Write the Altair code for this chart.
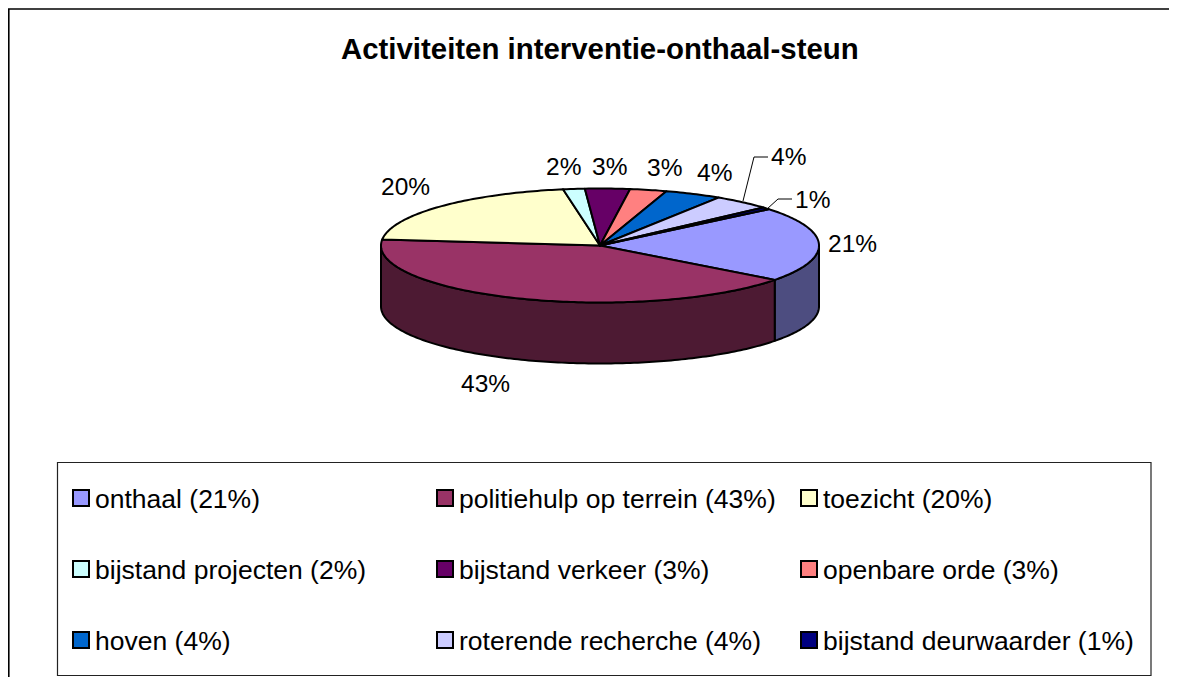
import math
import altair as alt
import pandas as pd

# ---- data ----
names = ["onthaal", "politiehulp op terrein", "toezicht", "bijstand projecten", "bijstand verkeer",
         "openbare orde", "hoven", "roterende recherche", "bijstand deurwaarder"]
percent_labels = [21, 43, 20, 2, 3, 3, 4, 4, 1]
# shares
shares = [21.3, 41.4, 20.6, 1.6, 3.3, 2.7, 4.2, 4.3, 0.6]
top_colors = ["#9999FF", "#993366", "#FFFFCC", "#CCFFFF", "#660066", "#FF8080", "#0066CC", "#CCCCFF", "#000080"]
side_colors = ["#4D4D80", "#4D1A33", "#80806A", "#6A8080", "#330033", "#804040", "#003366", "#6A6A80", "#000040"]
title_text = "Activiteiten interventie-onthaal-steun"

# ---- layout (page pixels minus the 8px margin) ----
OX, OY = 8, 8
W, H = 1161, 669
CX, CY, RX, RY, DEPTH = 600 - OX, 245.5 - OY, 219, 57, 61
START = 50.4
FONT = "Liberation Sans"
label_pos = [(381, 195), (546, 175), (592, 175), (647, 176), (697, 181), (771, 165), (795, 208)]
label_pos = [(828, 252), (461, 392)] + label_pos
legend_col_x = [81, 445, 809]
legend_row_y = [498, 569, 640]
legend_base_y = [508, 579, 650]
leaders = [[(743, 201), (754, 157), (768, 157)], [(767, 209), (778, 199), (792, 199)]]


def pt(theta, dy=0.0):
    a = math.radians(theta)
    return [CX + RX * math.sin(a), CY - RY * math.cos(a) + dy]


def arc(a0, a1, dy=0.0, step=1.0):
    n = max(2, int(abs(a1 - a0) / step) + 1)
    return [pt(a0 + (a1 - a0) * i / n, dy) for i in range(n + 1)]


top_feats, side_feats = [], []
angle = START
for name, share in zip(names, shares):
    a0, a1 = angle, angle + share * 3.6
    angle = a1
    ring = [[CX, CY]] + arc(a0, a1) + [[CX, CY]]
    top_feats.append({"type": "Feature", "properties": {"name": name},
                      "geometry": {"type": "Polygon", "coordinates": [ring]}})
    s0, s1 = max(a0, 90), min(a1, 270)
    if s0 < s1:
        ring = arc(s0, s1) + arc(s1, s0, DEPTH)
        ring.append(ring[0])
        side_feats.append({"type": "Feature", "properties": {"name": name},
                           "geometry": {"type": "Polygon", "coordinates": [ring]}})

line_feats = [{"type": "Feature", "properties": {"name": "leader"},
               "geometry": {"type": "LineString",
                            "coordinates": [[x - OX, y - OY] for x, y in line]}} for line in leaders]


def geo(features):
    return alt.InlineData(values={"type": "FeatureCollection", "features": features},
                          format=alt.DataFormat(type="json", property="features"))


proj = alt.Projection(type="identity", scale=1, translate=[0, 0])

sides = alt.Chart(geo(side_feats)).mark_geoshape(stroke="black", strokeWidth=2, strokeJoin="round").encode(
    fill=alt.Fill("properties.name:N", scale=alt.Scale(domain=names, range=side_colors), legend=None)
).project(**proj.to_dict())
tops = alt.Chart(geo(top_feats)).mark_geoshape(stroke="black", strokeWidth=2, strokeJoin="round").encode(
    fill=alt.Fill("properties.name:N", scale=alt.Scale(domain=names, range=top_colors), legend=None)
).project(**proj.to_dict())
lines = alt.Chart(geo(line_feats)).mark_geoshape(filled=False, stroke="black", strokeWidth=1).project(**proj.to_dict())

px = lambda f: alt.X(f, scale=None, axis=None)
py = lambda f: alt.Y(f, scale=None, axis=None)

frame = alt.Chart(pd.DataFrame({"a": [0]})).mark_rule(stroke="black", strokeWidth=1.6).encode(
    x=alt.value(0.8), y=alt.value(1), y2=alt.value(H))
frame2 = alt.Chart(pd.DataFrame({"a": [0]})).mark_rule(stroke="black", strokeWidth=1.6).encode(
    y=alt.value(1), x=alt.value(0), x2=alt.value(W))
legend_box = alt.Chart(pd.DataFrame({"a": [0]})).mark_rect(fill="white", stroke="#222222", strokeWidth=1.2).encode(
    x=alt.value(57.5 - OX), x2=alt.value(1151 - OX), y=alt.value(462.5 - OY), y2=alt.value(675.5 - OY))

title = alt.Chart(pd.DataFrame({"t": [title_text]})).mark_text(
    font=FONT, fontSize=29.4, fontWeight="bold", align="left", baseline="alphabetic", color="black"
).encode(x=alt.value(341 - OX), y=alt.value(59 - OY), text="t:N")

pct_df = pd.DataFrame({"t": [f"{v}%" for v in percent_labels],
                       "x": [p[0] - OX for p in label_pos], "y": [p[1] - OY for p in label_pos]})
pcts = alt.Chart(pct_df).mark_text(font=FONT, fontSize=24.5, align="left", baseline="alphabetic", color="black").encode(
    x=px("x:Q"), y=py("y:Q"), text="t:N")

leg_df = pd.DataFrame({
    "name": names,
    "t": [f"{n} ({v}%)" for n, v in zip(names, percent_labels)],
    "sx": [legend_col_x[i % 3] - OX for i in range(9)],
    "sy": [legend_row_y[i // 3] - OY for i in range(9)],
    "tx": [legend_col_x[i % 3] + 14 - OX for i in range(9)],
    "ty": [legend_base_y[i // 3] - OY for i in range(9)],
})
swatches = alt.Chart(leg_df).mark_point(shape="square", filled=True, size=256, stroke="black", strokeWidth=2, opacity=1).encode(
    x=px("sx:Q"), y=py("sy:Q"),
    fill=alt.Fill("name:N", scale=alt.Scale(domain=names, range=top_colors), legend=None))
leg_text = alt.Chart(leg_df).mark_text(font=FONT, fontSize=26.5, align="left", baseline="alphabetic", color="black").encode(
    x=px("tx:Q"), y=py("ty:Q"), text="t:N")

chart = alt.layer(frame, frame2, legend_box, sides, tops, lines, title, pcts, swatches, leg_text).resolve_scale(
    fill="independent"
).properties(
    width=W, height=H, padding=0, background="white", autosize=alt.AutoSizeParams(type="none")
).configure_view(stroke=None)

chart.save("out.html", embed_options={"renderer": "svg", "actions": False})
